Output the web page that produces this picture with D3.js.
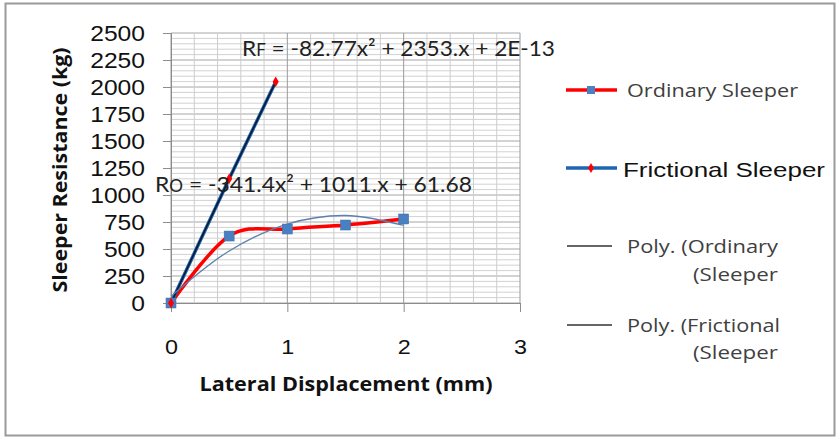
<!DOCTYPE html>
<html><head><meta charset="utf-8">
<script src="https://cdn.jsdelivr.net/npm/d3@7"></script>
<style>body{margin:0;background:#fff;} svg{display:block;}</style>
</head><body>
<svg id="c" width="840" height="438"></svg>
<script>
// ---- data ----
const dispOrdinary = [0, 0.5, 1, 1.5, 2];
const resOrdinary  = [0, 620, 685, 722, 778];
const dispFrictional = [0, 0.5, 0.9];
const resFrictional  = [0, 1150, 2048];
// trendline of ordinary sleeper
const trendOrdX = [0, 0.5, 1, 1.5, 2];
const trendOrdY = [62, 482, 731, 810, 718];
const yTicks = [0, 250, 500, 750, 1000, 1250, 1500, 1750, 2000, 2250, 2500];
const xTicks = [0, 1, 2, 3];
const eqF = "-82.77x\u00B2 + 2353.x + 2E-13";
const eqO = "-341.4x\u00B2 + 1011.x + 61.68";
const legendLabels = ["Ordinary Sleeper", "Frictional Sleeper", "Poly. (Ordinary", "(Sleeper", "Poly. (Frictional", "(Sleeper"];
const axisTitleX = "Lateral  Displacement (mm)";
const axisTitleY = "Sleeper Resistance (kg)";

const svg = d3.select("#c");
const x = d3.scaleLinear().domain([0, 3]).range([171, 520]);
const y = d3.scaleLinear().domain([0, 2500]).range([303, 33]);

// frame
svg.append("rect").attr("x", 5.5).attr("y", 3.5).attr("width", 829).attr("height", 432)
  .attr("fill", "#fff").attr("stroke", "#9a9a9a").attr("stroke-width", 2);

// grid
const g = svg.append("g");
d3.range(0, 2501, 50).forEach(v => {
  const major = v % 250 === 0;
  g.append("line").attr("x1", x(0)).attr("x2", x(3)).attr("y1", y(v)).attr("y2", y(v))
    .attr("stroke", major ? "#a6a6a6" : "#d2d2d2").attr("stroke-width", 1);
});
d3.range(0, 15.5, 1).map(i => i * 0.2).forEach(v => {
  const major = Math.abs(v - Math.round(v)) < 1e-6;
  g.append("line").attr("x1", x(v)).attr("x2", x(v)).attr("y1", y(0)).attr("y2", y(2500))
    .attr("stroke", major ? "#9a9a9a" : "#cdcdcd").attr("stroke-width", 1);
});

// axes
const ya = svg.append("g").attr("transform", `translate(${x(0)},0)`)
  .call(d3.axisLeft(y).tickValues(yTicks).tickSize(8).tickPadding(18).tickFormat(d3.format("d")));
ya.select(".domain").attr("stroke", "#8c8c8c");
ya.selectAll(".tick line").attr("stroke", "#8c8c8c");
ya.selectAll("text").attr("font-family", "Liberation Sans, Arial, sans-serif").attr("font-size", 22).attr("fill", "#111")
  .attr("textLength", d => String(d).length * 13.7).attr("lengthAdjust", "spacingAndGlyphs");

const xa = svg.append("g").attr("transform", `translate(0,${y(0)})`)
  .call(d3.axisBottom(x).tickValues(xTicks).tickSize(9).tickPadding(27).tickFormat(d3.format("d")));
xa.select(".domain").attr("stroke", "#8c8c8c");
xa.selectAll(".tick line").attr("stroke", "#8c8c8c");
xa.selectAll("text").attr("font-family", "Liberation Sans, Arial, sans-serif").attr("font-size", 21).attr("fill", "#111")
  .attr("textLength", 13).attr("lengthAdjust", "spacingAndGlyphs");

// axis titles
svg.append("text").attr("x", 346).attr("y", 391).attr("text-anchor", "middle")
  .attr("font-family", "Open Sans, sans-serif").attr("font-weight", "bold").attr("font-size", 20)
  .attr("textLength", 293).attr("lengthAdjust", "spacingAndGlyphs")
  .attr("fill", "#111").text(axisTitleX);
svg.append("text").attr("transform", "translate(67,170) rotate(-90)").attr("text-anchor", "middle")
  .attr("font-family", "Open Sans, sans-serif").attr("font-weight", "bold").attr("font-size", 20)
  .attr("textLength", 245).attr("lengthAdjust", "spacingAndGlyphs")
  .attr("fill", "#111").text(axisTitleY);

// series
const ord = dispOrdinary.map((d, i) => [d, resOrdinary[i]]);
const fri = dispFrictional.map((d, i) => [d, resFrictional[i]]);
const tOrd = trendOrdX.map((d, i) => [d, trendOrdY[i]]);

const lineSmooth = d3.line().x(d => x(d[0])).y(d => y(d[1])).curve(d3.curveCatmullRom.alpha(0));
const lineStraight = d3.line().x(d => x(d[0])).y(d => y(d[1]));
const lineTrend = d3.line().x(d => x(d[0])).y(d => y(d[1])).curve(d3.curveCatmullRom.alpha(0.5));

svg.append("path").attr("d", lineSmooth(ord)).attr("fill", "none").attr("stroke", "#ff0000").attr("stroke-width", 3.5);
svg.append("path").attr("d", lineStraight(fri)).attr("fill", "none").attr("stroke", "#1f64b0").attr("stroke-width", 3.5);
svg.append("path").attr("d", lineTrend(fri)).attr("fill", "none").attr("stroke", "#0a1a33").attr("stroke-width", 1.6);
svg.append("path").attr("d", lineTrend(tOrd)).attr("fill", "none").attr("stroke", "#5f7fae").attr("stroke-width", 1.3);

// markers
svg.selectAll(".sq").data(ord).enter().append("rect")
  .attr("x", d => x(d[0]) - 5).attr("y", d => y(d[1]) - 5).attr("width", 10).attr("height", 10)
  .attr("fill", "#4a7fc1").attr("stroke", "#3d6ea8").attr("stroke-width", 0.5);
const diamond = d3.symbol().type(d3.symbolDiamond).size(32);
svg.selectAll(".dm").data(fri).enter().append("path")
  .attr("transform", d => `translate(${x(d[0])},${y(d[1])})`).attr("d", diamond).attr("fill", "#ff0000");

// equations
function eq(xp, yp, sub, body, fs, len) {
  const t = svg.append("text").attr("x", xp).attr("y", yp)
    .attr("font-family", "Lato, sans-serif").attr("font-size", fs).attr("fill", "#222")
    .attr("textLength", len).attr("lengthAdjust", "spacingAndGlyphs");
  t.append("tspan").text("R");
  t.append("tspan").attr("font-size", fs * 0.75).text(sub);
  t.append("tspan").text(" = " + body);
}
eq(242, 56, "F", eqF, 22, 313);
eq(155, 192, "O", eqO, 22, 317);

// legend
const lg = svg.append("g");
function ltext(xp, yp, s, len, anchor, opts) {
  return lg.append("text").attr("x", xp).attr("y", yp).attr("text-anchor", anchor || "start")
    .attr("font-family", opts && opts.arial ? "Liberation Sans, Arial, sans-serif" : "Open Sans, sans-serif")
    .attr("font-size", opts && opts.fs ? opts.fs : 19).attr("fill", opts && opts.fill ? opts.fill : "#404040")
    .attr("textLength", len).attr("lengthAdjust", "spacingAndGlyphs").text(s);
}
// ordinary
lg.append("line").attr("x1", 566).attr("x2", 617).attr("y1", 90).attr("y2", 90).attr("stroke", "#ff0000").attr("stroke-width", 3.5);
lg.append("rect").attr("x", 587).attr("y", 86).attr("width", 8).attr("height", 8).attr("fill", "#4a7fc1");
ltext(627, 97, legendLabels[0], 171);
// frictional
lg.append("line").attr("x1", 566).attr("x2", 617).attr("y1", 168).attr("y2", 168).attr("stroke", "#1f64b0").attr("stroke-width", 3.5);
lg.append("path").attr("transform", "translate(591,168)").attr("d", d3.symbol().type(d3.symbolDiamond).size(30)).attr("fill", "#ff0000");
ltext(623, 177, legendLabels[1], 202, "start", {arial: true, fs: 21, fill: "#111"});
// poly ordinary
lg.append("line").attr("x1", 567).attr("x2", 612).attr("y1", 246).attr("y2", 246).attr("stroke", "#333").attr("stroke-width", 1.3);
ltext(627, 253, legendLabels[2], 151);
ltext(778, 281, legendLabels[3], 85, "end");
// poly frictional
lg.append("line").attr("x1", 567).attr("x2", 612).attr("y1", 325).attr("y2", 325).attr("stroke", "#333").attr("stroke-width", 1.3);
ltext(627, 332, legendLabels[4], 153);
ltext(778, 359, legendLabels[5], 85, "end");
</script>
</body></html>
